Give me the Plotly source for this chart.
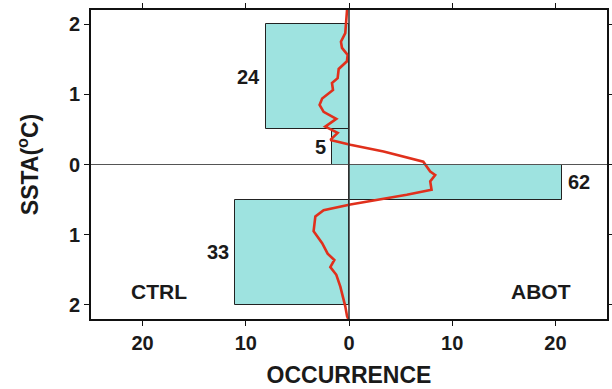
import plotly.graph_objects as go

# ---- data ----
bin_lo = [0.5, 0.0, -0.5, -2.0]          # SSTA bin lower edges
bin_hi = [2.0, 0.5, 0.0, -0.5]           # SSTA bin upper edges
occurrence = [-8.0, -1.67, 20.67, -11.0]  # signed (CTRL left, ABOT right)
counts = ["24", "5", "62", "33"]

curve_x = [-0.19, -0.26, -0.36, -0.78, -0.68, -0.13, -0.2, -1.0, -1.1, -1.65, -1.55,
           -2.6, -2.85, -2.46, -1.23, -2.3, -1.1, -1.8, 0.13, 3.35, 7.2, 7.87, 8.35,
           7.87, 8.0, 5.6, 0.13, -2.46, -3.26, -3.43, -2.6, -2.07, -1.42, -1.81,
           -1.23, -0.84, -0.52, -0.36, -0.19, -0.07]
curve_y = [2.2, 1.99, 1.87, 1.75, 1.66, 1.56, 1.47, 1.36, 1.23, 1.16, 1.06,
           0.94, 0.85, 0.75, 0.65, 0.54, 0.45, 0.35, 0.28, 0.185, 0.04, -0.1, -0.15,
           -0.24, -0.36, -0.43, -0.57, -0.65, -0.74, -0.95, -1.12, -1.27, -1.36, -1.46,
           -1.57, -1.74, -1.92, -2.02, -2.16, -2.2]

x_tickvals = [-20, -10, 0, 10, 20]
x_ticktext = ["20", "10", "0", "10", "20"]
y_tickvals = [-2, -1, 0, 1, 2]
y_ticktext = ["2", "1", "0", "1", "2"]

FONT = "Liberation Sans, Arial, sans-serif"
BAR_FILL = "#9EE3E0"
RED = "#E0301C"

centers = [(a + b) / 2 for a, b in zip(bin_lo, bin_hi)]
widths = [b - a for a, b in zip(bin_lo, bin_hi)]

fig = go.Figure()
fig.add_trace(go.Bar(
    x=occurrence, y=centers, width=widths, orientation="h",
    marker=dict(color=BAR_FILL, line=dict(color="#222222", width=1)),
    showlegend=False, hoverinfo="skip",
))
fig.add_trace(go.Scatter(
    x=curve_x, y=curve_y, mode="lines",
    line=dict(color=RED, width=2.6), showlegend=False,
))

# zero lines
fig.add_shape(type="line", xref="paper", x0=0, x1=1, yref="y", y0=0, y1=0,
              line=dict(color="#555555", width=1.2), layer="above")
fig.add_shape(type="line", xref="x", x0=0, x1=0, yref="paper", y0=0, y1=1,
              line=dict(color="#333333", width=1.5), layer="above")

# count labels
for occ, c, txt in zip(occurrence, centers, counts):
    fig.add_annotation(x=occ, y=c, text="<b>%s</b>" % txt, showarrow=False,
                       xanchor="left" if occ > 0 else "right",
                       xshift=4 if occ > 0 else -4,
                       font=dict(family=FONT, size=20, color="#1a1a1a"))

fig.add_annotation(x=-18.4, y=-1.815, text="<b>CTRL</b>", showarrow=False,
                   font=dict(family=FONT, size=21, color="#1a1a1a"))
fig.add_annotation(x=18.6, y=-1.81, text="<b>ABOT</b>", showarrow=False,
                   font=dict(family=FONT, size=21, color="#1a1a1a"))

axis_common = dict(
    showgrid=False, zeroline=False, showline=True, linecolor="#111111", linewidth=2,
    mirror="ticks", ticks="outside", ticklen=5, tickwidth=1.2, tickcolor="#111111",
    tickfont=dict(family=FONT, size=20, color="#1a1a1a"), automargin=False,
)
fig.update_xaxes(range=[-25, 25], tickvals=x_tickvals, ticktext=["<b>%s</b>" % t for t in x_ticktext],
                 title=dict(text="<b>OCCURRENCE</b>", font=dict(family=FONT, size=23, color="#1a1a1a"),
                            standoff=14),
                 **axis_common)
fig.update_yaxes(range=[-2.2, 2.2], tickvals=y_tickvals, ticktext=["<b>%s</b>" % t for t in y_ticktext],
                 title=dict(text="<b>SSTA(<sup>o</sup>C)</b>", font=dict(family=FONT, size=23, color="#1a1a1a"),
                            standoff=24),
                 **axis_common)

fig.update_layout(
    width=612, height=389,
    margin=dict(l=91, r=5, t=10, b=70),
    plot_bgcolor="white", paper_bgcolor="white",
    bargap=0,
)

fig.write_html("out.html")
